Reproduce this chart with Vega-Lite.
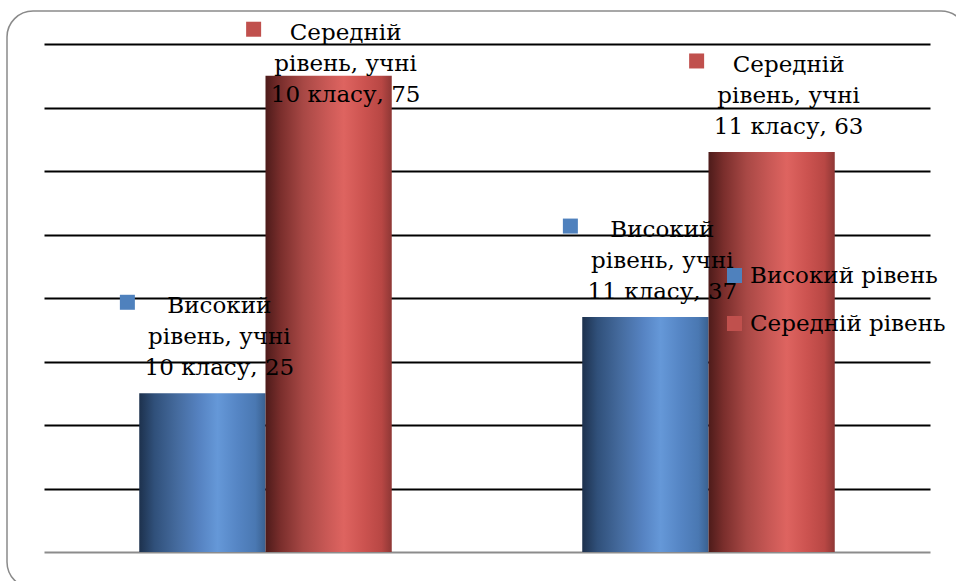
{
  "$schema": "https://vega.github.io/schema/vega-lite/v6.json",
  "width": 960,
  "height": 577,
  "padding": {"left": 7, "top": 11, "right": -11, "bottom": -7},
  "autosize": {"type": "none"},
  "background": "white",
  "config": {
    "view": {"stroke": "#8a8a8a", "strokeWidth": 1.5, "cornerRadius": 26},
    "font": "DejaVu Serif"
  },
  "data": {
    "values": [
      {"class": "учні 10 класу", "series": "Високий рівень", "value": 25, "label": ["Високий", "рівень, учні", "10 класу, 25"]},
      {"class": "учні 10 класу", "series": "Середній рівень", "value": 75, "label": ["Середній", "рівень, учні", "10 класу, 75"]},
      {"class": "учні 11 класу", "series": "Високий рівень", "value": 37, "label": ["Високий", "рівень, учні", "11 класу, 37"]},
      {"class": "учні 11 класу", "series": "Середній рівень", "value": 63, "label": ["Середній", "рівень, учні", "11 класу, 63"]}
    ]
  },
  "transform": [{"calculate": "min(datum.value, 68)", "as": "labelPos"}],
  "encoding": {
    "x": {"field": "class", "type": "nominal", "axis": null, "sort": null,
      "scale": {"range": [37, 923], "paddingInner": 0.43, "paddingOuter": 0.215}},
    "xOffset": {"field": "series", "type": "nominal",
      "scale": {"domain": ["Високий рівень", "Середній рівень"], "paddingInner": 0, "paddingOuter": 0}}
  },
  "layer": [
    {
      "transform": [{"filter": "datum.series === 'Високий рівень'"}],
      "mark": {"type": "bar", "fill": {"gradient": "linear", "x1": 0, "x2": 1, "y1": 0, "y2": 0,
        "stops": [
          {"offset": 0, "color": "#1d314d"},
          {"offset": 0.12, "color": "#30507a"},
          {"offset": 0.3, "color": "#456b9e"},
          {"offset": 0.48, "color": "#5683c2"},
          {"offset": 0.62, "color": "#6598d8"},
          {"offset": 0.78, "color": "#5585c4"},
          {"offset": 0.92, "color": "#4a78b2"},
          {"offset": 1, "color": "#3a6190"}
        ]}},
      "encoding": {
        "y": {"field": "value", "type": "quantitative",
          "scale": {"domain": [0, 80], "range": [541, 33], "nice": false},
          "axis": {"values": [0, 10, 20, 30, 40, 50, 60, 70, 80], "labels": false, "ticks": false, "domain": false, "title": null,
            "grid": true, "gridWidth": 2.2,
            "gridColor": {"condition": {"test": "datum.value === 0", "value": "#8c8c8c"}, "value": "#000000"}}}
      }
    },
    {
      "transform": [{"filter": "datum.series === 'Середній рівень'"}],
      "mark": {"type": "bar", "fill": {"gradient": "linear", "x1": 0, "x2": 1, "y1": 0, "y2": 0,
        "stops": [
          {"offset": 0, "color": "#4d1b1a"},
          {"offset": 0.12, "color": "#7a2e2c"},
          {"offset": 0.3, "color": "#a84845"},
          {"offset": 0.48, "color": "#c85855"},
          {"offset": 0.62, "color": "#de6460"},
          {"offset": 0.78, "color": "#cc5350"},
          {"offset": 0.92, "color": "#b84744"},
          {"offset": 1, "color": "#8e3735"}
        ]}},
      "encoding": {
        "y": {"field": "value", "type": "quantitative"}
      }
    },
    {
      "mark": {"type": "text", "align": "center", "baseline": "alphabetic", "dx": 17, "dy": -80, "fontSize": 23, "lineHeight": 31, "color": "#000000"},
      "encoding": {
        "y": {"field": "labelPos", "type": "quantitative"},
        "text": {"field": "label"}
      }
    },
    {
      "mark": {"type": "point", "shape": "M-11,-13.13H-9V-11.13H-11Z", "filled": true, "opacity": 1, "size": 225, "strokeWidth": 0},
      "encoding": {
        "y": {"field": "labelPos", "type": "quantitative"},
        "color": {"field": "series", "type": "nominal",
          "scale": {"domain": ["Високий рівень", "Середній рівень"], "range": ["#4f81bd", "#c0504d"]},
          "legend": {"orient": "none", "legendX": 716, "legendY": 253, "title": null, "padding": 0,
            "symbolType": "square", "symbolSize": 225, "symbolOpacity": 1, "symbolStrokeWidth": 0,
            "labelFontSize": 23, "labelFont": "DejaVu Serif", "labelColor": "#000000", "labelOffset": 4,
            "rowPadding": 24, "labelLimit": 400}
        }
      }
    }
  ]
}
